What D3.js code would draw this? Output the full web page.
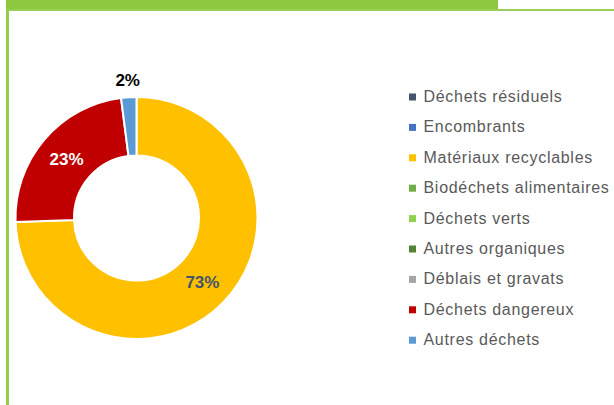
<!DOCTYPE html>
<html>
<head>
<meta charset="utf-8">
<script src="https://cdn.jsdelivr.net/npm/d3@7"></script>
<style>
  html, body { margin: 0; padding: 0; background: #fff; }
  svg { display: block; }
</style>
</head>
<body>
<svg id="chart" width="614" height="405"></svg>
<script>
// Waste categories, in legend order
const categories = [
  "Déchets résiduels",
  "Encombrants",
  "Matériaux recyclables",
  "Biodéchets alimentaires",
  "Déchets verts",
  "Autres organiques",
  "Déblais et gravats",
  "Déchets dangereux",
  "Autres déchets"
];
// Share of each category (%)
const shares = [0, 0, 73, 0, 0, 0, 0, 23, 2];
const colors = ["#44546A", "#4472C4", "#FFC000", "#70AD47", "#92D050",
                "#548235", "#A5A5A5", "#C00000", "#5B9BD5"];
const labelColors = ["#fff", "#fff", "#44546A", "#fff", "#fff",
                     "#fff", "#fff", "#ffffff", "#000"];

const svg = d3.select("#chart");
const W = 614, H = 405;

// Frame: green header band, rule and left border
svg.append("rect").attr("x", 6).attr("y", 0).attr("width", 492).attr("height", 10).attr("fill", "#8DC63F");
svg.append("rect").attr("x", 6).attr("y", 9).attr("width", W - 6).attr("height", 2).attr("fill", "#9BD058");
svg.append("rect").attr("x", 6).attr("y", 9).attr("width", 3).attr("height", H - 9).attr("fill", "#92CE48");

// Donut
const cx = 136.5, cy = 218, rOuter = 121, rInner = 62.5;
const data = categories.map((c, i) => ({ name: c, value: shares[i], color: colors[i], lc: labelColors[i] }));

const pie = d3.pie().sort(null).value(d => d.value);
const arcs = pie(data);
const arc = d3.arc().innerRadius(rInner).outerRadius(rOuter);
const outsideArc = d3.arc().innerRadius(rOuter + 17).outerRadius(rOuter + 17);

const g = svg.append("g").attr("transform", `translate(${cx},${cy})`);
g.selectAll("path.slice")
  .data(arcs.filter(a => a.data.value > 0))
  .join("path")
  .attr("class", "slice")
  .attr("d", arc)
  .attr("fill", d => d.data.color)
  .attr("stroke", "#fff")
  .attr("stroke-width", 2)
  .attr("stroke-linejoin", "round");

// Percentage labels: inside the ring, or just outside for narrow slices
g.selectAll("text.pct")
  .data(arcs.filter(a => a.data.value > 0))
  .join("text")
  .attr("class", "pct")
  .attr("transform", d => {
    const narrow = (d.endAngle - d.startAngle) < 0.3;
    const p = narrow ? outsideArc.centroid(d) : arc.centroid(d);
    return `translate(${p[0]},${p[1]})`;
  })
  .attr("text-anchor", "middle")
  .attr("dy", "0.36em")
  .attr("font-family", "'Liberation Sans', Arial, Helvetica, sans-serif")
  .attr("font-weight", "bold")
  .attr("font-size", 17)
  .attr("fill", d => d.data.lc)
  .text(d => d.data.value + "%");

// Legend
const legend = svg.append("g").attr("transform", "translate(409,97)");
const rowH = 30.4;
const item = legend.selectAll("g.item")
  .data(data)
  .join("g")
  .attr("class", "item")
  .attr("transform", (d, i) => `translate(0,${i * rowH})`);
item.append("rect")
  .attr("x", 0).attr("y", -3.5)
  .attr("width", 7).attr("height", 7)
  .attr("fill", d => d.color);
item.append("text")
  .attr("x", 14.5)
  .attr("y", 5)
  .attr("font-family", "'Liberation Sans', Arial, Helvetica, sans-serif")
  .attr("font-size", 16)
  .attr("letter-spacing", 0.7)
  .attr("fill", "#595959")
  .text(d => d.name);
</script>
</body>
</html>
